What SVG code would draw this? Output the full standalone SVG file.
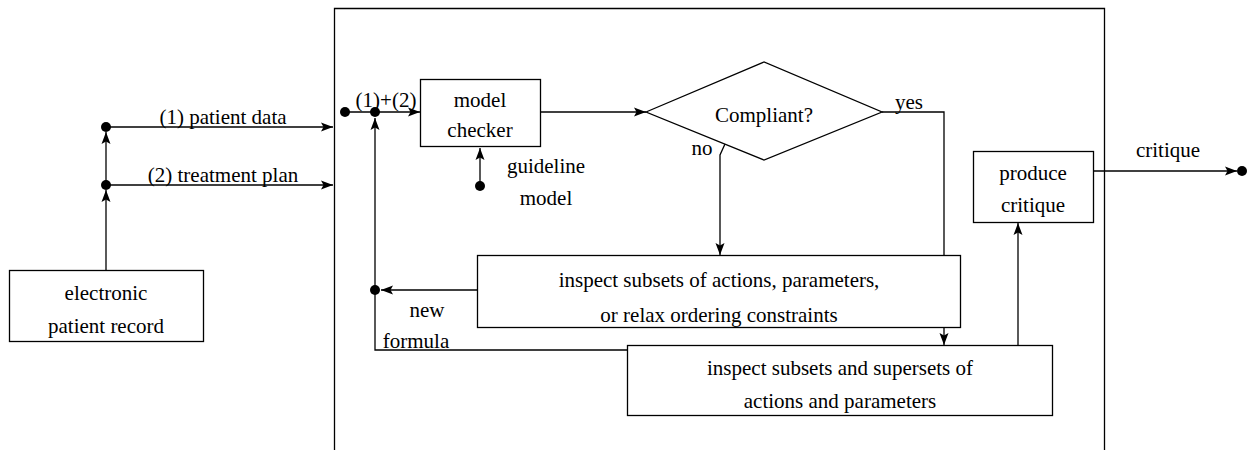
<svg xmlns="http://www.w3.org/2000/svg" width="1250" height="450" viewBox="0 0 1250 450">
<defs>
<marker id="arr" viewBox="0 0 12 10" refX="12" refY="5" markerWidth="12" markerHeight="10" markerUnits="userSpaceOnUse" orient="auto">
<path d="M0,0.5 L12,5 L0,9.5 L2.5,5 z" fill="#000"/>
</marker>
</defs>
<style>
text{font-family:'Liberation Serif','Times New Roman',Tinos,serif;font-size:21px;fill:#000;text-anchor:middle}
.box{fill:#fff;stroke:#000;stroke-width:1.3}
.ln{fill:none;stroke:#000;stroke-width:1.3}
.ar{marker-end:url(#arr)}
.dot{fill:#000}
</style>
<rect width="1250" height="450" fill="#fff"/>
<g id="frame"><path class="ln" d="M334.5,452 V8.5 H1104.5 V452" stroke="#333"/></g>
<g id="connectors">
<path class="ln ar" d="M106,270 V190"/>
<path class="ln ar" d="M106,185 V132"/>
<path class="ln ar" d="M106,127 H333"/>
<path class="ln ar" d="M106,185 H333"/>
<path class="ln ar" d="M345,112 H420"/>
<path class="ln ar" d="M480,186 V148"/>
<path class="ln ar" d="M540,112 H646"/>
<path class="ln ar" d="M882,112 H944 V345"/>
<path class="ln ar" d="M725,144 L720,155 V255"/>
<path class="ln ar" d="M477,290 H381"/>
<path class="ln ar" d="M627,350 H375 V118"/>
<path class="ln ar" d="M1018,345 V223"/>
<path class="ln ar" d="M1093,171 H1237"/>
<circle class="dot" cx="106" cy="127" r="5"/>
<circle class="dot" cx="106" cy="185" r="5"/>
<circle class="dot" cx="345" cy="112" r="5"/>
<circle class="dot" cx="375" cy="112" r="5"/>
<circle class="dot" cx="480" cy="186" r="5"/>
<circle class="dot" cx="375" cy="290" r="5"/>
<circle class="dot" cx="1242" cy="171" r="5"/>
<text x="223" y="124">(1) patient data</text>
<text x="223" y="182">(2) treatment plan</text>
<text x="386" y="107">(1)+(2)</text>
<text x="546" y="173">guideline</text>
<text x="546" y="205">model</text>
<text x="909" y="109">yes</text>
<text x="702" y="155">no</text>
<text x="427" y="317">new</text>
<text x="416" y="348">formula</text>
<text x="1168" y="157">critique</text>
</g>
<g id="epr">
<rect class="box" x="9.5" y="270.5" width="194" height="71"/>
<text x="106" y="300">electronic</text>
<text x="106" y="333">patient record</text>
</g>
<g id="checker">
<rect class="box" x="420.5" y="79.5" width="120" height="67"/>
<text x="480" y="107">model</text>
<text x="480" y="137">checker</text>
</g>
<g id="compliant">
<polygon class="box" points="646,112 764,62 882,112 764,160"/>
<text x="764" y="122">Compliant?</text>
</g>
<g id="inspect1">
<rect class="box" x="477.5" y="255.5" width="483" height="72"/>
<text x="719" y="287">inspect subsets of actions, parameters,</text>
<text x="719" y="322">or relax ordering constraints</text>
</g>
<g id="inspect2">
<rect class="box" x="627.5" y="345.5" width="425" height="70"/>
<text x="840" y="375">inspect subsets and supersets of</text>
<text x="840" y="408">actions and parameters</text>
</g>
<g id="produce">
<rect class="box" x="973.5" y="151.5" width="120" height="71"/>
<text x="1033" y="180">produce</text>
<text x="1033" y="212">critique</text>
</g>
</svg>
